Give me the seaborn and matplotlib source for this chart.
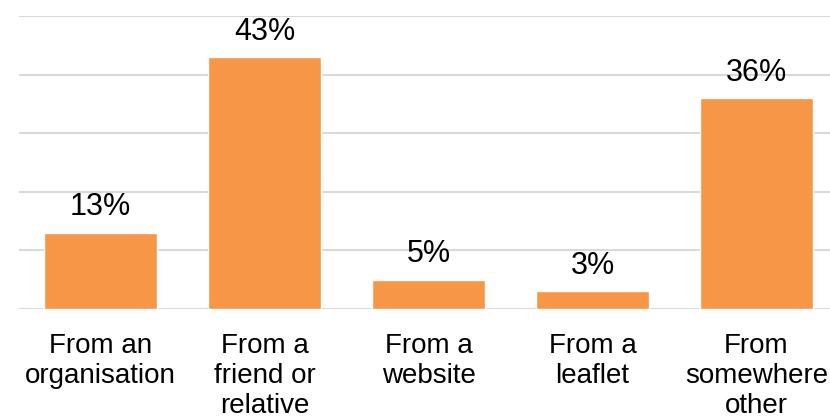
import matplotlib
matplotlib.use("Agg")
import matplotlib.pyplot as plt
import seaborn as sns
import pandas as pd

categories = ["From an\norganisation", "From a\nfriend or\nrelative", "From a\nwebsite",
              "From a\nleaflet", "From\nsomewhere\nother"]
values = [13, 43, 5, 3, 36]
labels = ["13%", "43%", "5%", "3%", "36%"]

sns.set_theme(style="white")
plt.rcParams["font.family"] = ["Liberation Sans", "DejaVu Sans"]

df = pd.DataFrame({"source": categories, "pct": values})

fig = plt.figure(figsize=(8.3, 4.16), dpi=100)
W, H = 830, 416
ax = fig.add_axes([18.5 / W, (H - 309) / H, 820 / W, (309 - 16) / H])

sns.barplot(data=df, x="source", y="pct", color="#F79646", saturation=1,
            width=0.69, ax=ax, zorder=3)

ax.set_ylim(0, 50)
ax.set_xlim(-0.5, 4.5)
ax.set_yticks(range(0, 51, 10))
ax.yaxis.grid(True, color="#d9d9d9", linewidth=1.5, zorder=0)
ax.set_axisbelow(True)
for s in ax.spines.values():
    s.set_visible(False)
ax.tick_params(axis="y", left=False, labelleft=False)
ax.tick_params(axis="x", bottom=False, pad=11, labelsize=20, colors="black")
ax.set_xlabel("")
ax.set_ylabel("")

for i, (v, lab) in enumerate(zip(values, labels)):
    ax.annotate(lab, (i, v), xytext=(0, 7.5), textcoords="offset points",
                ha="center", va="bottom", fontsize=22, color="black")

fig.savefig("out.png", dpi=100)
